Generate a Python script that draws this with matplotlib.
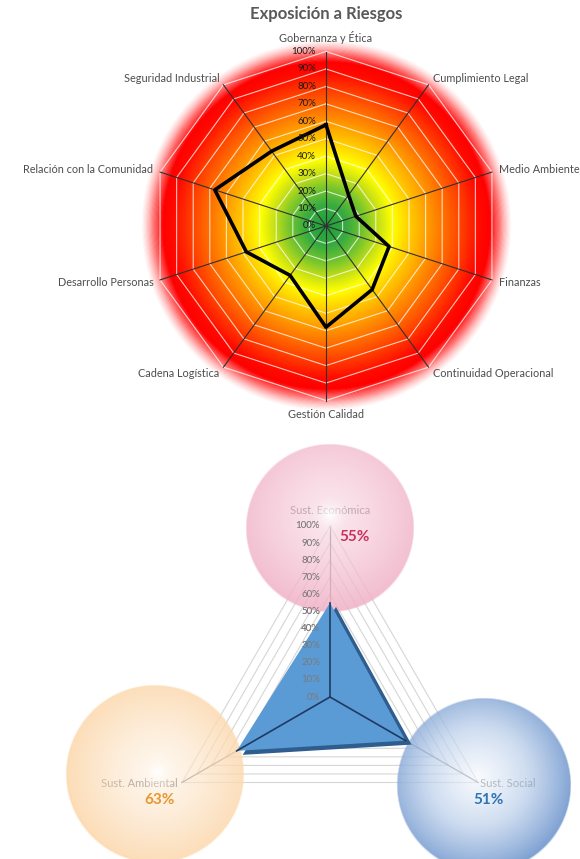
import numpy as np
import matplotlib
matplotlib.use('Agg')
import matplotlib.pyplot as plt
from matplotlib.colors import LinearSegmentedColormap, to_rgba
from matplotlib.patches import Polygon
from matplotlib.transforms import offset_copy

W, H = 580, 859

# --- datos: exposición a riesgos (%) ---
categorias = ['Gobernanza y Ética', 'Cumplimiento Legal', 'Medio Ambiente', 'Finanzas',
              'Continuidad Operacional', 'Gestión Calidad', 'Cadena Logística',
              'Desarrollo Personas', 'Relación con la Comunidad', 'Seguridad Industrial']
riesgo = [58, 22, 18, 38, 45, 58, 35, 48, 67, 53]
niveles = [0, 10, 20, 30, 40, 50, 60, 70, 80, 90, 100]

# --- datos: sustentabilidad (%) ---
pilares = ['Sust. Económica', 'Sust. Social', 'Sust. Ambiental']
sustentabilidad = [55, 51, 63]
colores_pilar = ['#c8325f', '#2e74b5', '#e8962e']

plt.rcParams['font.family'] = ['Lato', 'DejaVu Sans']

fig = plt.figure(figsize=(W / 100, H / 100), dpi=100)
fig.patch.set_facecolor('white')


def caja(cx, cy, R):
    # rectangulo de ejes (fraccion de figura) a partir del centro y radio en pixeles
    return [(cx - R) / W, (H - cy - R) / H, 2 * R / W, 2 * R / H]


def polar(rect, rmax, z):
    ax = fig.add_axes(rect, projection='polar', zorder=z)
    ax.set_theta_zero_location('N')
    ax.set_theta_direction(-1)
    ax.set_ylim(0, rmax)
    ax.axis('off')
    return ax


# ================= grafico 1 =================
rmax1 = 1.12
rect1 = caja(326, 226, 174.5 * rmax1)

# fondo degradado (verde -> amarillo -> rojo) con borde suave
fondo = fig.add_axes(rect1, zorder=0)
fondo.axis('off')
paradas = [(0.0, '#1f9e3c'), (0.12, '#38ac40'), (0.22, '#7cc72c'), (0.30, '#c8e016'),
           (0.38, '#ffff00'), (0.48, '#ffcc00'), (0.58, '#ff9c00'), (0.70, '#ff6400'),
           (0.80, '#ff3300'), (0.88, '#ff0a00'), (0.94, '#ff0000'),
           (0.995, (1, 0.12, 0.12, 0.6)), (1.065, (1, 0.45, 0.45, 0))]
dmax = paradas[-1][0]
cmap = LinearSegmentedColormap.from_list('riesgo', [(p / dmax, to_rgba(c)) for p, c in paradas])
g = np.linspace(-rmax1, rmax1, 600)
GX, GY = np.meshgrid(g, g)
GR = np.clip(np.hypot(GX, GY), 0, dmax)
fondo.imshow(cmap(GR / dmax), extent=(-rmax1, rmax1, -rmax1, rmax1), origin='lower',
             interpolation='bilinear')
fondo.set_xlim(-rmax1, rmax1)
fondo.set_ylim(-rmax1, rmax1)

ax1 = polar(rect1, rmax1, 1)

ang = np.radians(np.arange(len(categorias)) * 360 / len(categorias))
ang_c = np.append(ang, ang[0])

for n in niveles[1:]:
    ax1.plot(ang_c, [n / 100] * len(ang_c), color='white', lw=0.8, alpha=0.75, zorder=1)
for t in ang:
    ax1.plot([t, t], [0, 1], color='#303030', lw=0.8, zorder=2)

vals = np.array(riesgo) / 100
ax1.plot(ang_c, np.append(vals, vals[0]), color='black', lw=2.6, zorder=3)

for n in niveles:
    ax1.annotate(f'{n}%', (0, n / 100), xytext=(-10, 0), textcoords='offset pixels',
                 ha='right', va='center', fontsize=7, color='#1a1a1a', zorder=4)

for t, nombre in zip(ang, categorias):
    s, c = np.sin(t), np.cos(t)
    ha = 'center' if abs(s) < 0.1 else ('left' if s > 0 else 'right')
    va = 'center' if abs(c) < 0.9 else ('bottom' if c > 0 else 'top')
    ax1.annotate(nombre, (t, 1.0), xytext=(7 * s, 8 * c), textcoords='offset pixels',
                 ha=ha, va=va, fontsize=7.8, color='#4d4d4d')

fig.text(326 / W, 1 - 14 / H, 'Exposición a Riesgos', ha='center', va='center',
         fontsize=12, fontweight='bold', color='#595959')

# ================= grafico 2 =================
rmax2 = 1.05
rect2 = caja(330, 697, 171 * rmax2)
ax2 = polar(rect2, rmax2, 1)

ang2 = np.radians(np.arange(len(pilares)) * 360 / len(pilares))
ang2_c = np.append(ang2, ang2[0])

for n in niveles[1:]:
    ax2.plot(ang2_c, [n / 100] * len(ang2_c), color='#d6d6d6', lw=0.8)
for t in ang2:
    ax2.plot([t, t], [0, 1], color='#7f7f7f', lw=0.9)
for n in niveles:
    ax2.annotate(f'{n}%', (0, n / 100), xytext=(-10, 0), textcoords='offset pixels',
                 ha='right', va='center', fontsize=7, color='#8c8c8c')

pos_lab = [((0, 15), 'center'), ((2, -1), 'left'), ((-4, -1), 'right')]
for t, nombre, (off, ha) in zip(ang2, pilares, pos_lab):
    ax2.annotate(nombre, (t, 1.0), xytext=off, textcoords='offset pixels',
                 ha=ha, va='center', fontsize=8, color='#666666')

# esferas decorativas
deco = fig.add_axes([0, 0, 1, 1], zorder=2)
deco.axis('off')


def esfera(cx, cy, R, hx, hy, stops):
    n = int(2 * R) + 2
    x = np.linspace(cx - R, cx + R, n)
    y = np.linspace(cy - R, cy + R, n)
    X, Y = np.meshgrid(x, y)
    dist = np.hypot(X - cx, Y - cy)
    mask = np.clip((R - dist) / 1.5, 0, 1)
    t = np.clip(np.hypot(X - hx, Y - hy) / (R + np.hypot(hx - cx, hy - cy)), 0, 1)
    pos = [p for p, _, _ in stops]
    cols = np.array([to_rgba(c, a) for _, c, a in stops])
    img = np.zeros((n, n, 4))
    for k in range(4):
        img[..., k] = np.interp(t, pos, cols[:, k])
    img[..., 3] *= mask
    deco.imshow(img, extent=(cx - R, cx + R, cy + R, cy - R), origin='upper',
                interpolation='bilinear')


esfera(330, 528, 85, 330, 515,
       [(0, '#ffffff', 0.9), (0.2, '#f7d0dd', 0.62), (1, '#f0afc5', 0.85)])
esfera(155, 774, 90, 158, 772,
       [(0, '#ffffff', 0.9), (0.22, '#feead3', 0.55), (1, '#fcd6a8', 0.85)])
esfera(484, 785, 88, 478, 777,
       [(0, '#f5f8fd', 0.6), (0.5, '#bcd0eb', 0.72), (1, '#6f96cd', 0.92)])
deco.set_xlim(0, W)
deco.set_ylim(H, 0)

# triangulo de valores
ax3 = polar(rect2, rmax2, 3)
v2 = np.array(sustentabilidad) / 100
xy = np.column_stack([ang2, v2])
sombra = offset_copy(ax3.transData, fig=fig, x=6, y=-4, units='dots')
ax3.add_patch(Polygon(xy, closed=True, fc='#2f5d8e', ec='none', transform=sombra))
tri = Polygon(xy, closed=True, fc='#5b9bd5', ec='none')
ax3.add_patch(tri)
for t, v in zip(ang2, v2):
    ax3.plot([t, t], [0, v], color='#1f3a60', lw=1.2)
# etiquetas del eje visibles sobre el triangulo
for n in niveles:
    et = ax3.annotate(f'{n}%', (0, n / 100), xytext=(-10, 0), textcoords='offset pixels',
                      ha='right', va='center', fontsize=7, color='#7a7a7a')
    et.set_clip_path(tri)
ax3.set_ylim(0, rmax2)

pos_pct = [(25, -11), (10, -18), (-22, -17)]
for t, v, col, off in zip(ang2, sustentabilidad, colores_pilar, pos_pct):
    ax3.annotate(f'{v}%', (t, 1.0), xytext=off, textcoords='offset pixels',
                 ha='center', va='center', fontsize=11, fontweight='bold', color=col)

fig.savefig('out.png', dpi=100)
